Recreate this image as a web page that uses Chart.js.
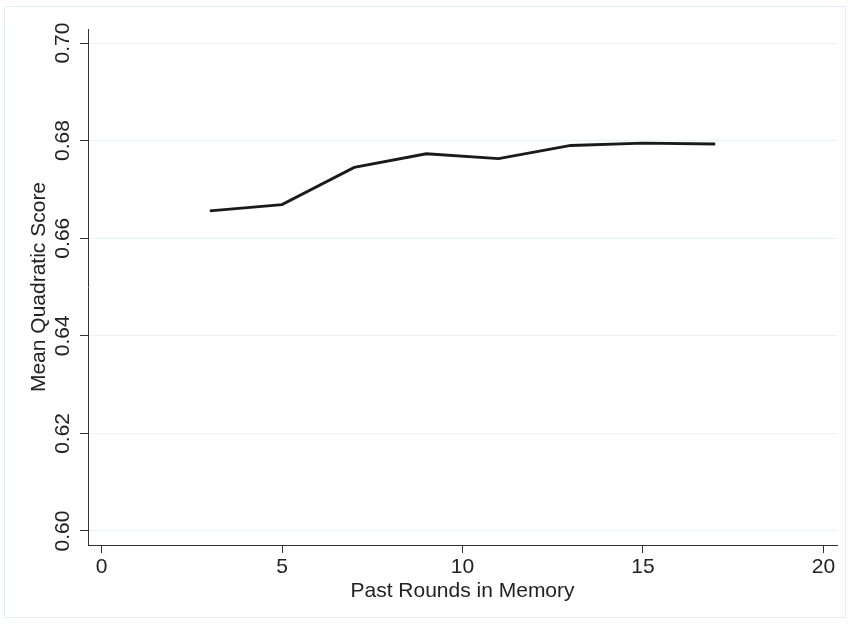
<!DOCTYPE html>
<html>
<head>
<meta charset="utf-8">
<script src="https://cdn.jsdelivr.net/npm/chart.js@4.4.1/dist/chart.umd.min.js"></script>
<style>
  html, body { margin: 0; padding: 0; background: #fff; }
  #wrap { position: relative; width: 850px; height: 625px; }
</style>
</head>
<body>
<div id="wrap"><canvas id="memChart" width="850" height="625"></canvas></div>
<script>
// Données
const rounds = [3, 5, 7, 9, 11, 13, 15, 17];
const meanScore = [0.6656, 0.6669, 0.6745, 0.6773, 0.6763, 0.6790, 0.6795, 0.6793];
const xTicks = [0, 5, 10, 15, 20];
const yTicks = [0.60, 0.62, 0.64, 0.66, 0.68, 0.70];

const police = '"Liberation Sans", Arial, Helvetica, sans-serif';
const texte = "#222";

// Cadre clair autour du graphique + labels Y tournés (style Stata)
const decorStata = {
    id: "decorStata",
    beforeDraw(chart) {
        const c = chart.ctx;
        c.save();
        c.fillStyle = "#fff";
        c.fillRect(0, 0, chart.width, chart.height);
        c.strokeStyle = "#e4edf1";
        c.lineWidth = 1;
        c.strokeRect(4.5, 6.5, 841, 611);
        c.restore();
    },
    afterDraw(chart) {
        const y = chart.scales.y;
        const c = chart.ctx;
        c.save();
        c.font = "21px " + police;
        c.fillStyle = texte;
        c.textAlign = "center";
        c.textBaseline = "middle";
        y.ticks.forEach(t => {
            const py = y.getPixelForValue(t.value);
            c.save();
            c.translate(63, py);
            c.rotate(-Math.PI / 2);
            c.fillText(t.value.toFixed(2), 0, 0);
            c.restore();
        });
        c.restore();
    }
};

const ctx = document.getElementById("memChart").getContext("2d");

new Chart(ctx, {
    type: "line",
    plugins: [decorStata],
    data: {
        datasets: [{
            data: rounds.map((r, i) => ({ x: r, y: meanScore[i] })),
            borderColor: "#1a1a1a",
            borderWidth: 2.8,
            pointRadius: 0,
            tension: 0,
            fill: false
        }]
    },
    options: {
        responsive: false,
        animation: false,
        layout: { padding: { top: 29, right: 13, bottom: 0, left: 0 } },
        plugins: {
            legend: { display: false },
            tooltip: { enabled: false }
        },
        scales: {
            x: {
                type: "linear",
                min: -0.374,
                max: 20.374,
                afterBuildTicks: s => { s.ticks = xTicks.map(v => ({ value: v })); },
                afterFit: s => { s.height = 80; },
                grid: {
                    drawOnChartArea: false,
                    tickLength: 8,
                    tickColor: "#333"
                },
                border: { color: "#333", width: 1 },
                ticks: {
                    padding: 2,
                    maxRotation: 0,
                    color: texte,
                    font: { family: police, size: 21 }
                },
                title: {
                    display: true,
                    text: "Past Rounds in Memory",
                    color: texte,
                    font: { family: police, size: 21 },
                    padding: { top: 0, bottom: 21 }
                }
            },
            y: {
                type: "linear",
                min: 0.59713,
                max: 0.70287,
                afterBuildTicks: s => { s.ticks = yTicks.map(v => ({ value: v })); },
                afterFit: s => { s.width = 88; },
                grid: {
                    color: "#eaf2f3",
                    lineWidth: 1,
                    tickLength: 8,
                    tickColor: "#333"
                },
                border: { color: "#333", width: 1 },
                ticks: { display: false },
                title: {
                    display: true,
                    text: "Mean Quadratic Score",
                    color: texte,
                    font: { family: police, size: 21 },
                    padding: { top: 27, bottom: 0 }
                }
            }
        }
    }
});
</script>
</body>
</html>
